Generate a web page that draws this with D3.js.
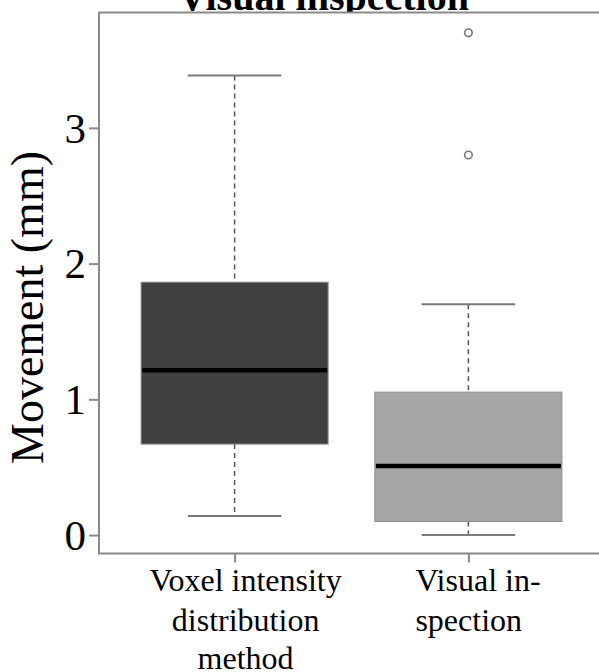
<!DOCTYPE html>
<html>
<head>
<meta charset="utf-8">
<script src="https://cdn.jsdelivr.net/npm/d3@7"></script>
<style>
  html, body { margin: 0; padding: 0; background: #ffffff; }
  svg { display: block; }
  text { font-family: "Liberation Serif", "Times New Roman", serif; fill: #000; }
</style>
</head>
<body>
<script>
// Box-plot summaries of measured movement for the two methods
const categories = ["Voxel intensity distribution method", "Visual inspection"];
const labelLines = [["Voxel intensity", "distribution", "method"], ["Visual in-", "spection"]];
const whiskerLow = [0.14, 0.0];
const q1 = [0.67, 0.10];
const median = [1.215, 0.508];
const q3 = [1.863, 1.053];
const whiskerHigh = [3.385, 1.70];
const outliers = [[], [2.80, 3.70]];
const yTicks = [0, 1, 2, 3];
const title = "Visual inspection";
const yTitle = "Movement (mm)";
const fills = ["#404043", "#a6a6a7"];

const W = 599, H = 672;
const svg = d3.select("body").append("svg").attr("width", W).attr("height", H);

const plotL = 99, plotR = 604, plotT = 12.5, plotB = 553.5;
const x = d3.scaleLinear().domain([0.42, 2.58]).range([plotL, plotR]);
const y = d3.scaleLinear().domain([-0.136, 3.85]).range([plotB, plotT]);
const boxHalf = 0.4, capHalf = 0.2;

// title sits above the plot region; the white plot panel covers its lower part
svg.append("text")
  .attr("x", 323.5).attr("y", 10)
  .attr("text-anchor", "middle")
  .style("font-size", "40px").style("font-weight", "bold")
  .text(title);

svg.append("rect")
  .attr("x", plotL).attr("y", plotT)
  .attr("width", plotR - plotL).attr("height", plotB - plotT)
  .attr("fill", "#ffffff");

const data = categories.map((c, i) => ({
  c, i, pos: i + 1,
  lo: whiskerLow[i], q1: q1[i], med: median[i], q3: q3[i], hi: whiskerHigh[i],
  out: outliers[i]
}));

const g = svg.append("g");

// dashed whiskers and their caps
data.forEach(d => {
  g.append("line")
    .attr("x1", x(d.pos)).attr("x2", x(d.pos))
    .attr("y1", y(d.hi)).attr("y2", y(d.q3))
    .attr("stroke", "#555").attr("stroke-width", 1.5)
    .attr("stroke-dasharray", "5,4");
  g.append("line")
    .attr("x1", x(d.pos)).attr("x2", x(d.pos))
    .attr("y1", y(d.q1)).attr("y2", y(d.lo))
    .attr("stroke", "#555").attr("stroke-width", 1.5)
    .attr("stroke-dasharray", "5,4");
  [d.lo, d.hi].forEach(v => {
    g.append("line")
      .attr("x1", x(d.pos - capHalf)).attr("x2", x(d.pos + capHalf))
      .attr("y1", y(v)).attr("y2", y(v))
      .attr("stroke", "#7a7a7a").attr("stroke-width", 2);
  });
});

// boxes
g.selectAll("rect.box").data(data).join("rect")
  .attr("class", "box")
  .attr("x", d => x(d.pos - boxHalf))
  .attr("width", d => x(d.pos + boxHalf) - x(d.pos - boxHalf))
  .attr("y", d => y(d.q3))
  .attr("height", d => y(d.q1) - y(d.q3))
  .attr("fill", (d, i) => fills[i])
  .attr("stroke", "#8c8c8c").attr("stroke-width", 1);

// medians
g.selectAll("line.med").data(data).join("line")
  .attr("class", "med")
  .attr("x1", d => x(d.pos - boxHalf) + 1).attr("x2", d => x(d.pos + boxHalf) - 1)
  .attr("y1", d => y(d.med)).attr("y2", d => y(d.med))
  .attr("stroke", "#000").attr("stroke-width", 4.5);

// outliers
data.forEach(d => {
  g.selectAll(null).data(d.out).join("circle")
    .attr("cx", x(d.pos)).attr("cy", v => y(v))
    .attr("r", 3.8)
    .attr("fill", "none").attr("stroke", "#777").attr("stroke-width", 1.6);
});

// plot frame (left, top, bottom)
svg.append("path")
  .attr("d", `M${plotR},${plotT}H${plotL}V${plotB}H${plotR}`)
  .attr("fill", "none").attr("stroke", "#8a8a8a").attr("stroke-width", 2);

// y axis
const yAxis = svg.append("g")
  .attr("transform", `translate(${plotL},0)`)
  .call(d3.axisLeft(y).tickValues(yTicks).tickSize(10).tickPadding(3).tickFormat(d3.format("d")));
yAxis.select(".domain").remove();
yAxis.selectAll(".tick line").attr("stroke", "#8a8a8a").attr("stroke-width", 2);
yAxis.selectAll(".tick text")
  .style("font-family", '"Liberation Serif", "Times New Roman", serif')
  .style("font-size", "43px").attr("fill", "#000").attr("dy", "0.33em");

// x axis ticks
const xAxis = svg.append("g")
  .attr("transform", `translate(0,${plotB})`)
  .call(d3.axisBottom(x).tickValues(data.map(d => d.pos)).tickSize(9).tickFormat(""));
xAxis.select(".domain").remove();
xAxis.selectAll(".tick line").attr("stroke", "#8a8a8a").attr("stroke-width", 2);

// category labels
const lineY = [591, 631, 669];
data.forEach(d => {
  const t = svg.append("text")
    .attr("text-anchor", d.i === 0 ? "middle" : "start")
    .style("font-size", "32px");
  labelLines[d.i].forEach((ln, k) => {
    t.append("tspan")
      .attr("x", d.i === 0 ? x(d.pos) + 11 : x(d.pos) - 53)
      .attr("y", lineY[k])
      .text(ln);
  });
});

// y axis title
svg.append("text")
  .attr("transform", `translate(43,307.5) rotate(-90)`)
  .attr("text-anchor", "middle")
  .style("font-size", "46px")
  .text(yTitle);
</script>
</body>
</html>
